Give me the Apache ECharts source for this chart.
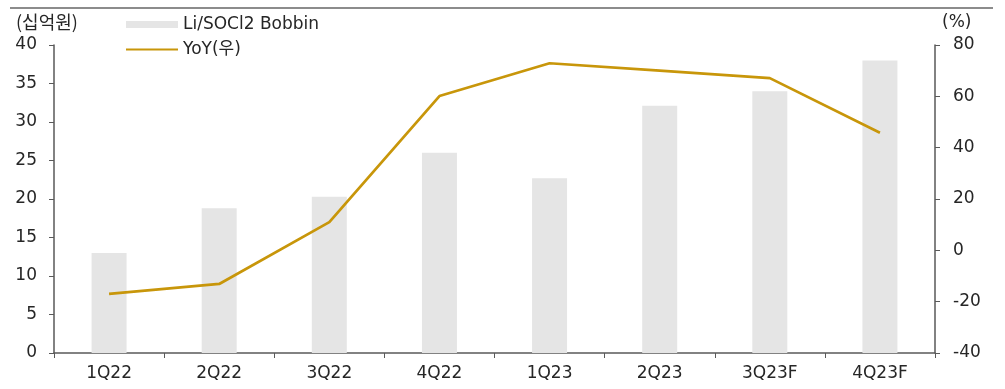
<!DOCTYPE html>
<html>
<head>
<meta charset="utf-8">
<script src="https://cdn.jsdelivr.net/npm/echarts@6/dist/echarts.min.js"></script>
<style>
  html, body { margin: 0; padding: 0; background: #fff; }
  #chart { width: 1005px; height: 389px; }
</style>
</head>
<body>
<div id="chart"></div>
<script>
// Quarterly Li/SOCl2 bobbin-cell revenue (KRW bn) and YoY growth (%)
const categories = ['1Q22', '2Q22', '3Q22', '4Q22', '1Q23', '2Q23', '3Q23F', '4Q23F'];
const bobbinRevenue = [13.0, 18.8, 20.3, 26.0, 22.7, 32.1, 34.0, 38.0];
const yoyGrowth = [-17.0, -13.1, 11.0, 60.1, 72.9, 70.0, 67.1, 45.8];
const leftTicks = { min: 0, max: 40, interval: 5 };
const rightTicks = { min: -40, max: 80, interval: 20 };
const leftUnit = '(십억원)';
const rightUnit = '(%)';

const FONT = '"DejaVu Sans", "Noto Sans CJK KR", sans-serif';
const KFONT = '"Noto Sans CJK KR", sans-serif';
const FS = 17;
const TEXT = '#262626';
const AXIS = '#595959';
const GOLD = '#c8960a';

const chart = echarts.init(document.getElementById('chart'));
chart.setOption({
  animation: false,
  textStyle: { fontFamily: FONT },
  grid: { left: 54, right: 70, top: 45, bottom: 36 },
  graphic: [{
    type: 'line',
    shape: { x1: 10, y1: 8, x2: 993, y2: 8 },
    style: { stroke: '#8c8c8c', lineWidth: 2 }
  }, {
    type: 'text',
    left: 16, top: 13,
    style: { text: leftUnit, font: '18px ' + KFONT, fill: TEXT }
  }, {
    type: 'text',
    left: 942, top: 14,
    style: { text: rightUnit, font: FS + 'px ' + FONT, fill: TEXT }
  }],
  legend: {
    orient: 'vertical',
    left: 120,
    top: 11,
    itemGap: 8,
    itemWidth: 52,
    itemHeight: 7,
    textStyle: { fontFamily: FONT, fontSize: FS, color: TEXT },
    data: [
      { name: 'Li/SOCl2 Bobbin', icon: 'rect' },
      { name: 'YoY(우)', itemStyle: { opacity: 0 } }
    ]
  },
  xAxis: {
    type: 'category',
    data: categories,
    axisLine: { lineStyle: { color: AXIS, width: 1.5 } },
    axisTick: { show: true, length: 5, lineStyle: { color: AXIS } },
    axisLabel: { fontFamily: FONT, fontSize: FS, color: TEXT, margin: 12 }
  },
  yAxis: [{
    type: 'value',
    min: leftTicks.min, max: leftTicks.max, interval: leftTicks.interval,
    splitLine: { show: false },
    axisLine: { show: true, lineStyle: { color: AXIS, width: 1.5 } },
    axisTick: { show: true, length: 5, lineStyle: { color: AXIS } },
    axisLabel: { fontFamily: FONT, fontSize: FS, color: TEXT, margin: 17 }
  }, {
    type: 'value',
    min: rightTicks.min, max: rightTicks.max, interval: rightTicks.interval,
    position: 'right',
    splitLine: { show: false },
    axisLine: { show: true, lineStyle: { color: AXIS, width: 1.5 } },
    axisTick: { show: true, length: 5, lineStyle: { color: AXIS } },
    axisLabel: { fontFamily: FONT, fontSize: FS, color: TEXT, margin: 18 }
  }],
  series: [{
    name: 'Li/SOCl2 Bobbin',
    type: 'bar',
    yAxisIndex: 0,
    barWidth: 35,
    itemStyle: { color: '#e5e5e5' },
    data: bobbinRevenue
  }, {
    name: 'YoY(우)',
    type: 'line',
    yAxisIndex: 1,
    symbol: 'none',
    lineStyle: { color: GOLD, width: 2.7 },
    itemStyle: { color: GOLD },
    data: yoyGrowth
  }]
});
</script>
</body>
</html>
